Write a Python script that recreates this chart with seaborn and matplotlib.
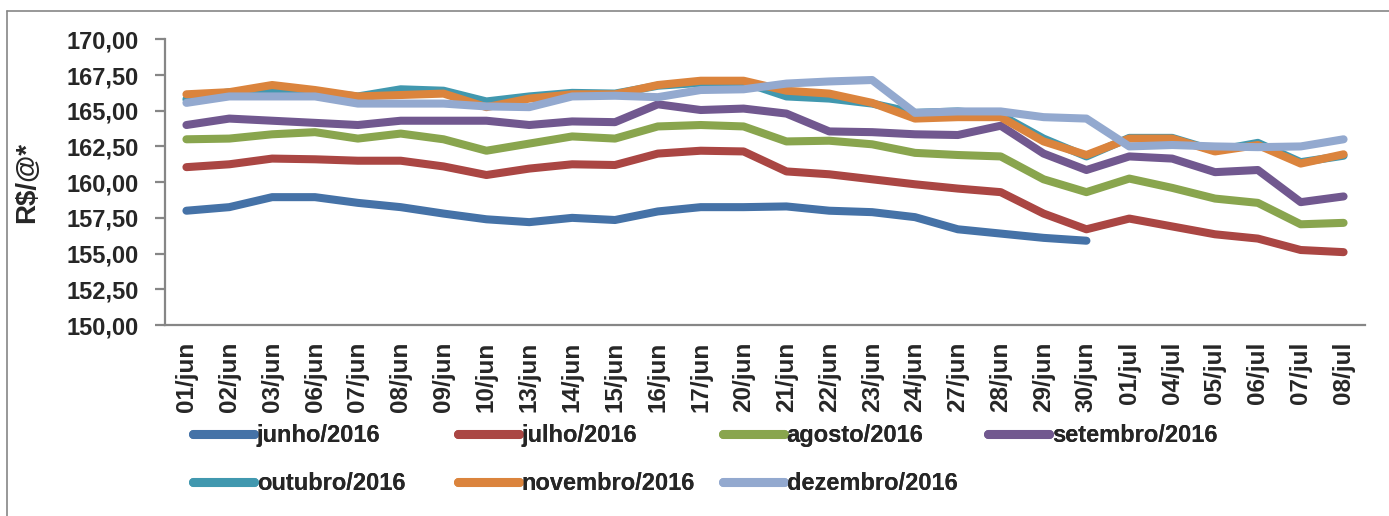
import pandas as pd
import matplotlib
matplotlib.use('Agg')
import matplotlib.pyplot as plt
from matplotlib.lines import Line2D
from matplotlib.ticker import FixedLocator
import seaborn as sns

# Dates on the x axis (trading days)
datas = ['01/jun', '02/jun', '03/jun', '06/jun', '07/jun', '08/jun', '09/jun',
         '10/jun', '13/jun', '14/jun', '15/jun', '16/jun', '17/jun', '20/jun',
         '21/jun', '22/jun', '23/jun', '24/jun', '27/jun', '28/jun', '29/jun',
         '30/jun', '01/jul', '04/jul', '05/jul', '06/jul', '07/jul', '08/jul']

# Contract prices (R$/@)
junho = [158.00, 158.25, 158.95, 158.95, 158.55, 158.25, 157.80, 157.40, 157.20,
         157.50, 157.35, 157.95, 158.25, 158.25, 158.30, 158.00, 157.90, 157.55,
         156.70, 156.40, 156.10, 155.90]
julho = [161.05, 161.25, 161.65, 161.60, 161.50, 161.50, 161.10, 160.50, 160.95,
         161.25, 161.20, 162.00, 162.20, 162.15, 160.75, 160.55, 160.20, 159.85,
         159.55, 159.30, 157.80, 156.70, 157.45, 156.90, 156.35, 156.05, 155.25,
         155.10]
agosto = [163.00, 163.05, 163.35, 163.50, 163.05, 163.40, 163.00, 162.20, 162.70,
          163.20, 163.05, 163.90, 164.00, 163.90, 162.85, 162.90, 162.65, 162.05,
          161.90, 161.80, 160.20, 159.30, 160.25, 159.60, 158.85, 158.55, 157.05,
          157.15]
setembro = [164.00, 164.45, 164.30, 164.15, 164.00, 164.30, 164.30, 164.30, 164.00,
            164.25, 164.20, 165.45, 165.05, 165.15, 164.80, 163.55, 163.50, 163.35,
            163.30, 163.95, 162.00, 160.85, 161.80, 161.65, 160.70, 160.85, 158.60,
            159.00]
outubro = [165.80, 166.30, 166.30, 166.30, 166.00, 166.50, 166.40, 165.65, 166.00,
           166.25, 166.20, 166.75, 166.95, 167.00, 166.00, 165.85, 165.50, 164.85,
           164.95, 164.70, 163.05, 161.80, 163.10, 163.10, 162.20, 162.75, 161.40,
           161.85]
novembro = [166.15, 166.30, 166.80, 166.45, 166.00, 166.10, 166.20, 165.25, 165.85,
            166.15, 166.15, 166.80, 167.10, 167.10, 166.40, 166.20, 165.55, 164.45,
            164.55, 164.55, 162.85, 161.90, 163.05, 163.05, 162.15, 162.60, 161.30,
            161.95]
dezembro = [165.55, 166.00, 166.00, 166.00, 165.50, 165.50, 165.50, 165.30, 165.25,
            166.00, 166.05, 165.95, 166.45, 166.50, 166.90, 167.05, 167.15, 164.85,
            164.95, 164.95, 164.55, 164.45, 162.50, 162.60, 162.50, 162.45, 162.50,
            163.00]

series_nomes = ['junho/2016', 'julho/2016', 'agosto/2016', 'setembro/2016',
                'outubro/2016', 'novembro/2016', 'dezembro/2016']
series_valores = [junho, julho, agosto, setembro, outubro, novembro, dezembro]
cores = ['#4572A7', '#AA4643', '#89A54E', '#71588F', '#4198AF', '#DB843D', '#93A9CF']

y_ticks = [150.0, 152.5, 155.0, 157.5, 160.0, 162.5, 165.0, 167.5, 170.0]

# Long-format table for seaborn
linhas = []
for nome, valores in zip(series_nomes, series_valores):
    for i, v in enumerate(valores):
        linhas.append({'pos': i, 'valor': v, 'serie': nome})
df = pd.DataFrame(linhas)

sns.set_style('white')
plt.rcParams['font.family'] = ['Liberation Sans', 'DejaVu Sans']
plt.rcParams['font.weight'] = 'bold'

W, H = 1389, 516
fig = plt.figure(figsize=(W / 100, H / 100), dpi=100)
ax = fig.add_axes([165 / W, 1 - 325 / H, 1200 / W, 285.7 / H])

sns.lineplot(data=df, x='pos', y='valor', hue='serie', hue_order=series_nomes,
             palette=cores, linewidth=5.8, legend=False, ax=ax,
             solid_capstyle='round', solid_joinstyle='round')

# Axes styling (Excel-like)
gray = '#868686'
ax.set_xlim(-0.5, len(datas) - 0.5)
ax.set_ylim(150, 170)
for s in ['top', 'right']:
    ax.spines[s].set_visible(False)
for s in ['left', 'bottom']:
    ax.spines[s].set_color(gray)
    ax.spines[s].set_linewidth(1.6)

ax.set_xticks(range(len(datas)))
ax.set_xticklabels(datas, rotation=90, fontsize=17.5, fontweight='bold')
ax.xaxis.set_minor_locator(FixedLocator([i - 0.5 for i in range(len(datas) + 1)]))
ax.tick_params(axis='x', which='major', length=0, pad=12)
ax.tick_params(axis='x', which='minor', length=8, width=1.6, color=gray, direction='out')

ax.set_yticks(y_ticks)
ax.set_yticklabels([f'{v:.2f}'.replace('.', ',') for v in y_ticks],
                   fontsize=17, fontweight='bold')
ax.tick_params(axis='y', which='major', length=7, width=1.6, color=gray,
               direction='out', pad=12, left=True)

ax.set_xlabel('')
ax.set_ylabel(r'R\$/@*', fontsize=20, fontweight='bold')
ax.yaxis.set_label_coords(-(165 - 40) / 1200, 0.5)

# Legend: four equally spaced columns, two rows
handles = [Line2D([0], [0], color=c, lw=6.5, solid_capstyle='round') for c in cores]
col_x = [193, 458, 723, 988]
for j, x0 in enumerate(col_x):
    idx = [k for k in (j, j + 4) if k < len(handles)]
    leg = fig.legend([handles[k] for k in idx], [series_nomes[k] for k in idx],
                     loc='upper left', bbox_to_anchor=(x0 / W, 1 - 424 / H),
                     frameon=False, handlelength=2.6, handletextpad=0.1,
                     labelspacing=1.05, borderpad=0, borderaxespad=0,
                     prop={'size': 17, 'weight': 'bold'})
    fig.add_artist(leg)

# Chart-area border (left and top edges visible in the crop)
fig.add_artist(Line2D([7.5 / W, 7.5 / W], [0, 1 - 11 / H], color=gray, lw=1.2,
                      transform=fig.transFigure))
fig.add_artist(Line2D([7.5 / W, 1], [1 - 11 / H, 1 - 11 / H], color=gray, lw=1.2,
                      transform=fig.transFigure))

fig.savefig('out.png', dpi=100)
